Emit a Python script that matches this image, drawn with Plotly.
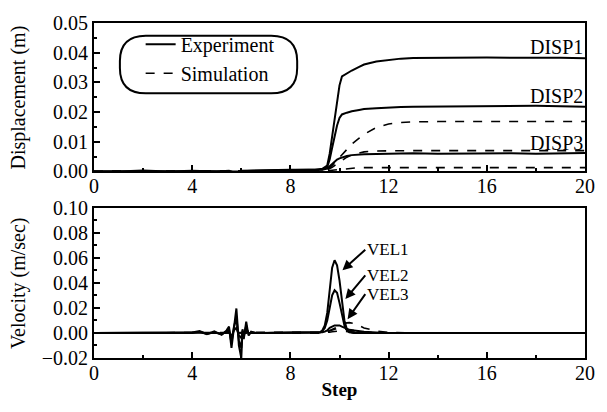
import plotly.graph_objects as go

# ---------------- data ----------------
x_disp = [0, 1, 2, 3, 4, 5, 5.5, 5.8, 6, 6.5, 7, 8, 9, 9.3, 9.5, 9.6, 9.7, 9.8, 9.9, 10,
          10.1, 10.3, 10.5, 10.8, 11, 11.5, 12, 12.5, 13, 14, 15, 16, 17, 18, 19, 20]

disp1_exp = [0, 0, 0.0003, 0, 0.0002, 0, 0.0002, -0.0006, 0.0002, 0.0002, 0.0004, 0.0006,
             0.0006, 0.0009, 0.0020, 0.0060, 0.0120, 0.0180, 0.0240, 0.0290, 0.0320, 0.0330,
             0.0340, 0.0352, 0.0360, 0.0370, 0.0376, 0.0380, 0.0382, 0.0383, 0.0382, 0.0384,
             0.0383, 0.0384, 0.0383, 0.0381]
disp2_exp = [0, 0, 0, 0, 0, 0, 0, -0.0004, 0.0001, 0.0002, 0.0003, 0.0004, 0.0005, 0.0007,
             0.0015, 0.0040, 0.0080, 0.0120, 0.0155, 0.0180, 0.0192, 0.0198, 0.0203, 0.0207,
             0.0210, 0.0213, 0.0216, 0.0217, 0.0218, 0.0219, 0.0218, 0.0221, 0.0220, 0.0221,
             0.0220, 0.0218]
disp3_exp = [0, 0, 0, 0, 0, 0, 0, -0.0002, 0, 0.0001, 0.0002, 0.0003, 0.0004, 0.0006, 0.0010,
             0.0018, 0.0026, 0.0034, 0.0040, 0.0044, 0.0047, 0.0052, 0.0055, 0.0057, 0.0058,
             0.0059, 0.0060, 0.0060, 0.0061, 0.0060, 0.0061, 0.0060, 0.0061, 0.0060, 0.0062,
             0.0062]
disp1_sim = [0, 0, 0, 0, 0, 0, 0, 0, 0, 0, 0, 0, 0, 0.0002, 0.0006, 0.0012, 0.0020, 0.0029,
             0.0038, 0.0048, 0.0058, 0.0076, 0.0092, 0.0112, 0.0125, 0.0148, 0.0160, 0.0165,
             0.0167, 0.0168, 0.0168, 0.0168, 0.0168, 0.0168, 0.0168, 0.0168]
disp2_sim = [0, 0, 0, 0, 0, 0, 0, 0, 0, 0, 0, 0, 0, 0.0002, 0.0005, 0.0009, 0.0014, 0.0020,
             0.0026, 0.0032, 0.0038, 0.0048, 0.0056, 0.0063, 0.0066, 0.0069, 0.0070, 0.0070,
             0.0070, 0.0070, 0.0070, 0.0070, 0.0070, 0.0070, 0.0070, 0.0070]
disp3_sim = [0, 0, 0, 0, 0, 0, 0, 0, 0, 0, 0, 0, 0, 0.0001, 0.0002, 0.0003, 0.0004, 0.0005,
             0.0006, 0.0007, 0.0008, 0.0010, 0.0012, 0.0013, 0.0013, 0.0013, 0.0013, 0.0013,
             0.0013, 0.0013, 0.0013, 0.0013, 0.0013, 0.0013, 0.0013, 0.0013]

x_vel = [0, 1, 2, 3, 4, 4.3, 4.6, 4.9, 5.2, 5.4, 5.5, 5.6, 5.65, 5.7, 5.8, 5.85, 5.9, 6.0,
         6.05, 6.1, 6.2, 6.25, 6.3, 6.4, 6.6, 7, 8, 9, 9.2, 9.3, 9.4, 9.5, 9.6, 9.7, 9.8,
         9.9, 10.0, 10.1, 10.2, 10.3, 10.4, 10.6, 10.8, 11, 11.5, 12, 14, 16, 18, 20]
vel1_exp = [0, 0, 0.0004, 0, 0.0003, 0.0015, -0.001, 0.0012, -0.0015, 0.002, 0.005, -0.012,
            -0.004, 0.008, 0.0195, 0.006, -0.010, -0.020, 0.003, -0.005, 0.009, 0.003, -0.002,
            0.001, 0, 0, 0, 0, 0.0005, 0.002, 0.006, 0.016, 0.035, 0.052, 0.058, 0.054, 0.042,
            0.025, 0.010, 0.003, 0.001, 0, 0.0005, 0, 0, 0, 0, 0, 0, 0]
vel2_exp = [0, 0, 0, 0, 0, 0.0008, -0.0008, 0.0006, -0.001, 0.001, 0.003, -0.008, -0.002,
            0.005, 0.012, 0.004, -0.006, -0.012, 0.002, -0.003, 0.006, 0.002, -0.001, 0.0005,
            0, 0, 0, 0, 0.0003, 0.0015, 0.004, 0.010, 0.021, 0.030, 0.034, 0.032, 0.024, 0.014,
            0.006, 0.002, 0.0005, 0, 0, 0, 0, 0, 0, 0, 0, 0]
vel3_exp = [0, 0, 0, 0, 0, 0.0003, -0.0003, 0.0002, -0.0004, 0.0004, 0.001, -0.003, -0.001,
            0.002, 0.004, 0.001, -0.002, -0.004, 0.001, -0.001, 0.002, 0.001, 0, 0, 0, 0, 0,
            0, 0, 0.0005, 0.001, 0.002, 0.004, 0.005, 0.006, 0.006, 0.006, 0.005, 0.004, 0.003,
            0.0025, 0.002, 0.0015, 0.001, 0.0004, 0, 0, 0, 0, 0]
vel1_sim = [0, 0, 0, 0, 0, 0, 0, 0, 0, 0, 0, 0, 0, 0, 0, 0, 0, 0, 0, 0, 0, 0, 0, 0, 0, 0, 0,
            0, 0, 0, 0, 0.001, 0.002, 0.003, 0.004, 0.005, 0.006, 0.007, 0.0075, 0.008, 0.0082,
            0.0075, 0.006, 0.004, 0.0015, 0.0003, 0, 0, 0, 0]
vel2_sim = [0, 0, 0, 0, 0, 0, 0, 0, 0, 0, 0, 0, 0, 0, 0, 0, 0, 0, 0, 0, 0, 0, 0, 0, 0, 0, 0,
            0, 0, 0, 0, 0.001, 0.0018, 0.0026, 0.0032, 0.0036, 0.0038, 0.0037, 0.0034, 0.003,
            0.0026, 0.0018, 0.0012, 0.0007, 0.0002, 0, 0, 0, 0, 0]
vel3_sim = [0, 0, 0, 0, 0, 0, 0, 0, 0, 0, 0, 0, 0, 0, 0, 0, 0, 0, 0, 0, 0, 0, 0, 0, 0, 0, 0,
            0, 0, 0, 0, 0.0003, 0.0006, 0.0009, 0.0012, 0.0014, 0.0015, 0.0014, 0.0012, 0.001,
            0.0008, 0.0005, 0.0003, 0.0001, 0, 0, 0, 0, 0, 0]

disp_labels = ["DISP1", "DISP2", "DISP3"]
disp_label_y = [0.0418, 0.0253, 0.0095]
vel_labels = ["VEL1", "VEL2", "VEL3"]
vel_tip_x = [10.12, 10.24, 10.33]
vel_tip_y = [0.050, 0.027, 0.011]
vel_text_y = [0.0664, 0.046, 0.031]
vel_text_x = 11.05

x_ticks = [0, 4, 8, 12, 16, 20]
disp_ticks = [0.00, 0.01, 0.02, 0.03, 0.04, 0.05]
vel_ticks = [-0.02, 0.00, 0.02, 0.04, 0.06, 0.08, 0.10]

# ---------------- figure ----------------
FONT = "Liberation Serif"
fig = go.Figure()

exp_line = dict(color="black", width=2)
sim_line = dict(color="black", width=1.6, dash="dash")

for i, ys in enumerate([disp1_exp, disp2_exp, disp3_exp]):
    fig.add_trace(go.Scatter(x=x_disp, y=ys, mode="lines", line=exp_line,
                             name="Experiment", showlegend=(i == 0),
                             xaxis="x", yaxis="y"))
for i, ys in enumerate([disp1_sim, disp2_sim, disp3_sim]):
    fig.add_trace(go.Scatter(x=x_disp, y=ys, mode="lines", line=sim_line,
                             name="Simulation", showlegend=(i == 0),
                             xaxis="x", yaxis="y"))
for ys in [vel1_exp, vel2_exp, vel3_exp]:
    fig.add_trace(go.Scatter(x=x_vel, y=ys, mode="lines", line=exp_line,
                             showlegend=False, xaxis="x2", yaxis="y2"))
for ys in [vel1_sim, vel2_sim, vel3_sim]:
    fig.add_trace(go.Scatter(x=x_vel, y=ys, mode="lines", line=sim_line,
                             showlegend=False, xaxis="x2", yaxis="y2"))

tickfont = dict(family=FONT, size=20, color="black")
axis_common = dict(showline=True, linecolor="black", linewidth=2, mirror=True,
                   showgrid=False, zeroline=False, ticks="inside", tickcolor="black",
                   tickwidth=2, ticklen=6, tickfont=tickfont)

top_dom = [(358 - 167) / 343, 1.0]
bot_dom = [0.0, (358 - 204) / 343]

fig.update_layout(
    width=607, height=412,
    margin=dict(l=94, r=20, t=15, b=54),
    paper_bgcolor="white", plot_bgcolor="white",
    font=dict(family=FONT, size=20, color="black"),
    xaxis=dict(domain=[0, 1], anchor="y", range=[0, 20], tickvals=x_ticks,
               ticklabelstandoff=-4,
               minor=dict(dtick=2, ticks="inside", ticklen=3, tickcolor="black", tickwidth=2),
               **axis_common),
    yaxis=dict(domain=top_dom, anchor="x", range=[0, 0.05], tickvals=disp_ticks,
               tickformat=".2f",
               minor=dict(dtick=0.005, ticks="inside", ticklen=3, tickcolor="black", tickwidth=2),
               **axis_common),
    xaxis2=dict(domain=[0, 1], anchor="y2", range=[0, 20], tickvals=x_ticks,
                ticklabelstandoff=-4,
                minor=dict(dtick=2, ticks="inside", ticklen=3, tickcolor="black", tickwidth=2),
                title=dict(text="Step", font=dict(family=FONT, size=19, weight="bold"),
                           standoff=0),
                **axis_common),
    yaxis2=dict(domain=bot_dom, anchor="x2", range=[-0.02, 0.10], tickvals=vel_ticks,
                tickformat=".2f",
                minor=dict(dtick=0.01, ticks="inside", ticklen=3, tickcolor="black", tickwidth=2),
                **axis_common),
    legend=dict(x=0.095, y=0.995, xanchor="left", yanchor="top",
                bgcolor="rgba(0,0,0,0)", borderwidth=0,
                font=dict(family=FONT, size=20), tracegroupgap=0),
    showlegend=True,
)

# rounded legend frame (paper coords)
x0, x1 = 26 / 493, 204 / 493
y0, y1 = (358 - 87) / 343, (358 - 28) / 343
rx, ry = 26 / 493, 26 / 343
path = (f"M {x0+rx},{y1} L {x1-rx},{y1} Q {x1},{y1} {x1},{y1-ry} L {x1},{y0+ry} "
        f"Q {x1},{y0} {x1-rx},{y0} L {x0+rx},{y0} Q {x0},{y0} {x0},{y0+ry} "
        f"L {x0},{y1-ry} Q {x0},{y1} {x0+rx},{y1} Z")
fig.add_shape(type="path", path=path, xref="paper", yref="paper",
              line=dict(color="black", width=2))

# y-axis titles
title_x = (18 - 94) / 493
fig.add_annotation(text="Displacement (m)", x=title_x, y=(top_dom[0] + top_dom[1]) / 2,
                   xref="paper", yref="paper", textangle=-90, showarrow=False,
                   xanchor="center", yanchor="middle",
                   font=dict(family=FONT, size=20))
fig.add_annotation(text="Velocity (m/sec)", x=title_x, y=(bot_dom[0] + bot_dom[1]) / 2,
                   xref="paper", yref="paper", textangle=-90, showarrow=False,
                   xanchor="center", yanchor="middle",
                   font=dict(family=FONT, size=20))

for lab, yy in zip(disp_labels, disp_label_y):
    fig.add_annotation(text=lab, x=20, y=yy, xref="x", yref="y", xanchor="right",
                       yanchor="middle", showarrow=False, font=dict(family=FONT, size=20))

for lab, tx, ty, ly in zip(vel_labels, vel_tip_x, vel_tip_y, vel_text_y):
    fig.add_annotation(text=lab, x=tx, y=ty, xref="x2", yref="y2",
                       ax=vel_text_x, ay=ly, axref="x2", ayref="y2",
                       xanchor="left", yanchor="middle", showarrow=True, arrowhead=2,
                       arrowsize=1, arrowwidth=2, arrowcolor="black",
                       font=dict(family=FONT, size=17))

fig.write_html("out.html")
